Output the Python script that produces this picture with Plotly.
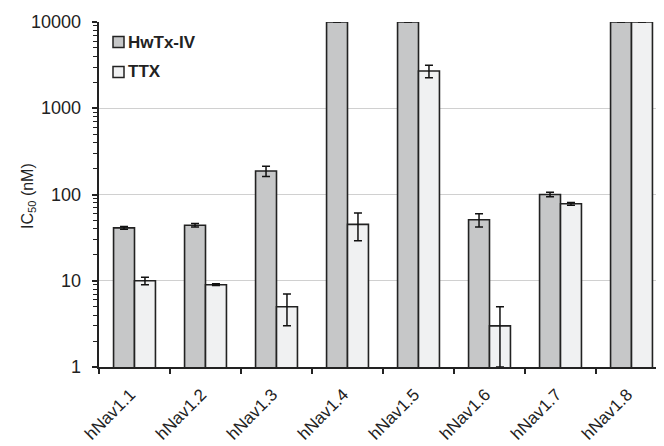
import math
import plotly.graph_objects as go

categories = ["hNav1.1", "hNav1.2", "hNav1.3", "hNav1.4", "hNav1.5", "hNav1.6", "hNav1.7", "hNav1.8"]
hwtx_values = [41, 44, 187, 10000, 10000, 51, 100, 10000]
hwtx_errors = [1.5, 2, 25, 0, 0, 9, 6, 0]
ttx_values = [10, 9, 5, 45, 2700, 3, 78, 10000]
ttx_errors = [1, 0.2, 2, 16, 450, 2, 3, 0]
series_names = ["HwTx-IV", "TTX"]
series_colors = ["#c6c7c8", "#f0f1f2"]
y_ticks = [1, 10, 100, 1000, 10000]
minor_ticks = [m * 10 ** d for d in range(4) for m in range(2, 10)]

FONT = "Liberation Sans, Arial, sans-serif"
INK = "#222222"

# page body has an 8px offset; figure coordinates compensate for it
OFF = 8
W, H = 664, 446
L, R, T, B = 99 - OFF, 5, 22 - OFF, H - (367 - OFF)
pw, ph = W - L - R, H - T - B

def px(x):
    return (x - OFF - L) / pw

def py(y):
    return 1 - (y - OFF - T) / ph

fig = go.Figure()
for name, vals, errs, col in [(series_names[0], hwtx_values, hwtx_errors, series_colors[0]),
                              (series_names[1], ttx_values, ttx_errors, series_colors[1])]:
    fig.add_trace(go.Bar(
        x=categories, y=vals, name=name, showlegend=False,
        marker=dict(color=col, line=dict(color=INK, width=1.6)),
        error_y=dict(type="data", array=errs, color="#111111", thickness=1.5, width=4),
    ))

# manual legend (square swatch + bold label)
legend_rows = [42, 72]
for name, col, yc in zip(series_names, series_colors, legend_rows):
    fig.add_shape(type="rect", xref="paper", yref="paper",
                  x0=px(113), x1=px(124), y0=py(yc + 5.5), y1=py(yc - 5.5),
                  fillcolor=col, line=dict(color=INK, width=1.5))
    fig.add_annotation(xref="paper", yref="paper", x=px(126), y=py(yc),
                       xanchor="left", yanchor="middle", showarrow=False,
                       text="<b>%s</b>" % name,
                       font=dict(size=17, color=INK, family=FONT))

# y tick labels, placed on the log axis scale
for v in y_ticks:
    fig.add_annotation(xref="paper", yref="y", x=px(83), y=math.log10(v),
                       xanchor="right", yanchor="middle", showarrow=False,
                       text=str(v), font=dict(size=18, color=INK, family=FONT))

# y-axis title
fig.add_annotation(xref="paper", yref="paper", x=px(28), y=py(196),
                   xanchor="center", yanchor="middle", showarrow=False, textangle=-90,
                   text="IC<sub>50</sub> (nM)", font=dict(size=16, color=INK, family=FONT))

fig.update_layout(
    width=W, height=H,
    margin=dict(l=L, r=R, t=T, b=B),
    paper_bgcolor="white", plot_bgcolor="white",
    barmode="group", bargap=0.41, bargroupgap=0,
    font=dict(family=FONT, color=INK),
    showlegend=False,
    xaxis=dict(
        type="category", range=[-0.5, 7.5], automargin=False,
        showline=True, linecolor=INK, linewidth=2,
        ticks="outside", tickson="boundaries", ticklen=5, tickwidth=1.5, tickcolor=INK,
        tickangle=-45, tickfont=dict(size=17, color=INK),
        ticklabelstandoff=9, ticklabelshift=-4,
        showgrid=False,
    ),
    yaxis=dict(
        type="log", range=[0, 4], automargin=False,
        tickvals=y_ticks, showticklabels=False,
        showline=True, linecolor=INK, linewidth=2,
        ticks="outside", ticklen=5, tickwidth=1.5, tickcolor=INK,
        minor=dict(tickvals=minor_ticks, ticks="outside", ticklen=4, tickwidth=1.2,
                   tickcolor=INK, showgrid=False),
        showgrid=True, gridcolor="#d0d0d0", gridwidth=1.2,
        zeroline=False,
    ),
)

fig.write_html("out.html")
